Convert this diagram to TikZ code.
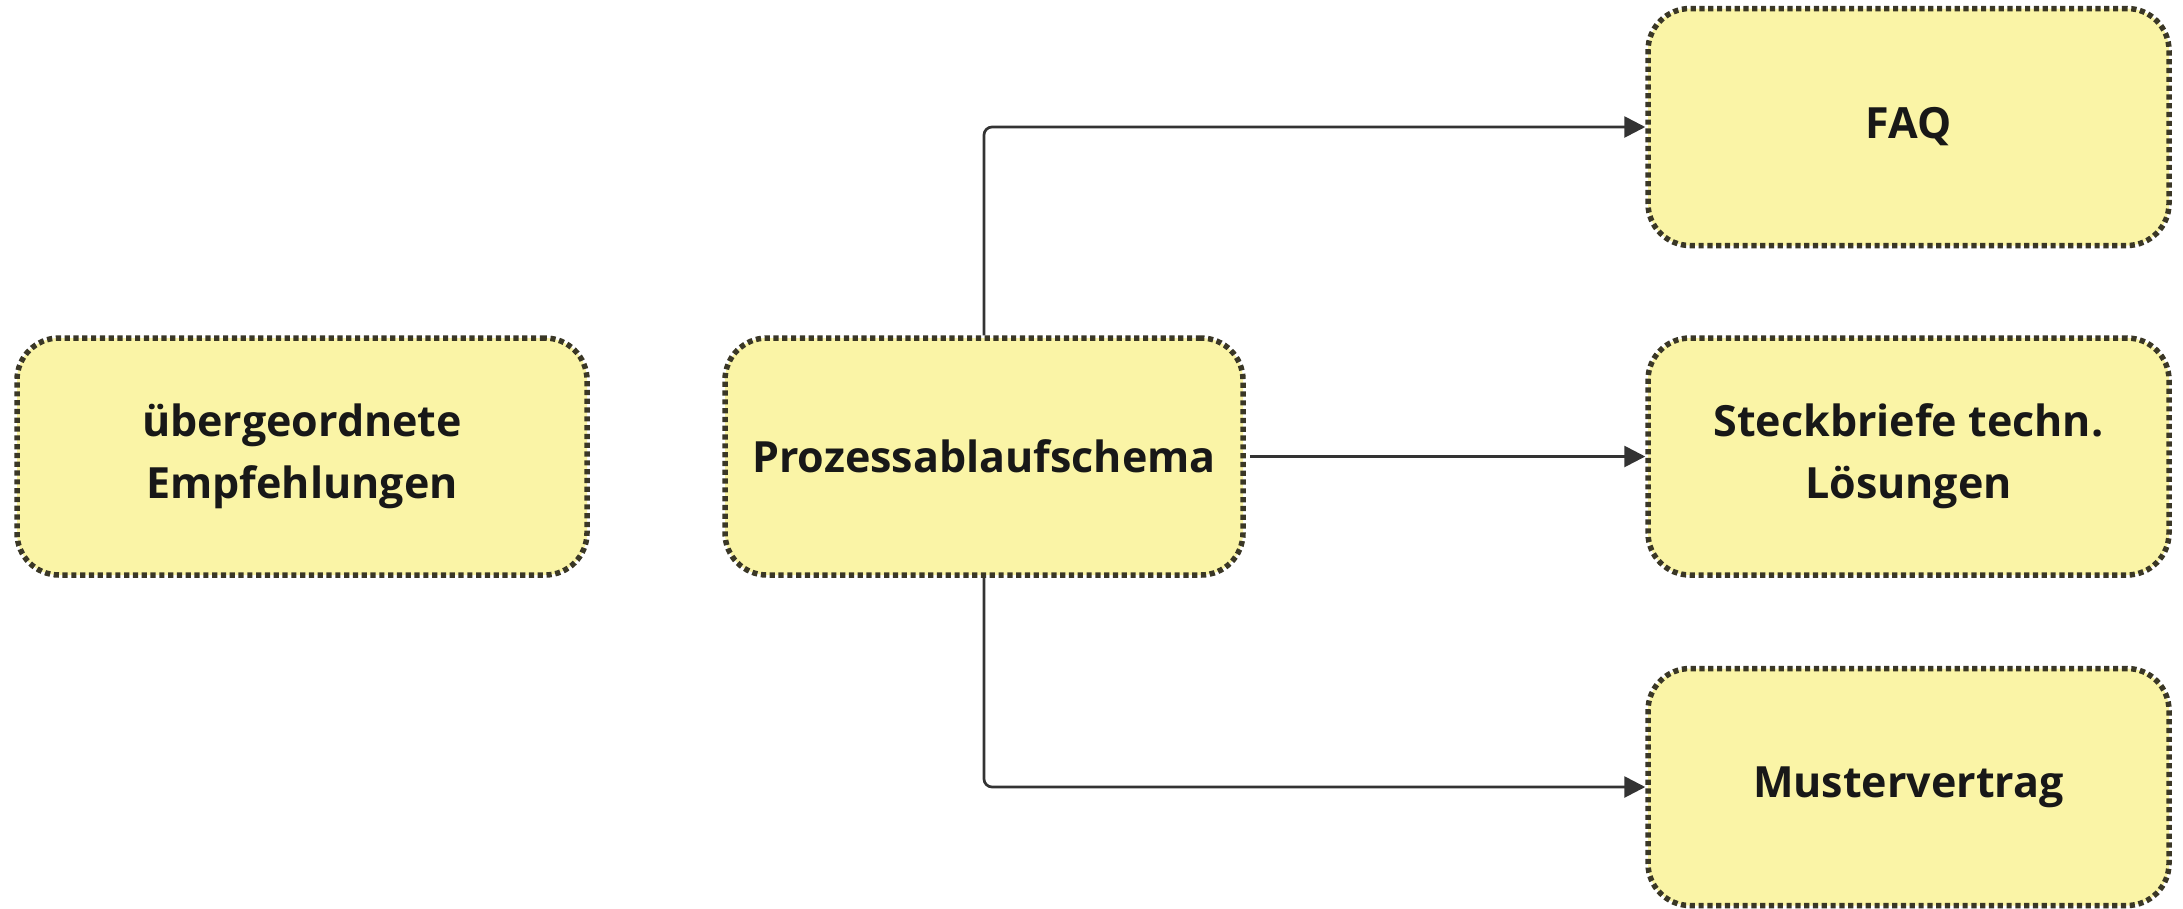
\documentclass[tikz,border=0pt]{standalone}
\usepackage{fontspec}
\setmainfont{Open Sans}
\usetikzlibrary{arrows.meta}
\definecolor{boxfill}{RGB}{250,244,166}
\definecolor{boxline}{RGB}{58,55,38}
\definecolor{edgecol}{RGB}{51,51,51}
\definecolor{txt}{RGB}{24,24,24}
\begin{document}
\begin{tikzpicture}[x=1pt,y=-1pt,
  box/.style={draw=boxline, fill=boxfill, line width=5.5pt,
    dash pattern=on 5.2pt off 3.6pt, rounded corners=42pt,
    minimum height=237pt, align=center, inner sep=0pt,
    text=txt, font=\fontsize{43}{62}\selectfont\bfseries},
  conn/.style={draw=edgecol, line width=2.7pt, rounded corners=8pt,
    -{Triangle[length=21pt,width=21pt]}}]
\fill[white] (0,0) rectangle (2183,908);
\useasboundingbox (0,0) rectangle (2183,908);
\node[box, minimum width=570pt] (emp) at (302,456.5) {übergeordnete\\Empfehlungen};
\node[box, minimum width=518pt] (proz) at (984,456.5) {Prozessablaufschema};
\node[box, minimum width=521pt] (faq) at (1908.5,127) {FAQ};
\node[box, minimum width=521pt] (steck) at (1908.5,456.5) {Steckbriefe techn.\\Lösungen};
\node[box, minimum width=521pt] (must) at (1908.5,787) {Mustervertrag};
\draw[conn] (proz.north) |- (faq.west);
\draw[conn, shorten <=4pt] (proz.east) -- (steck.west);
\draw[conn] (proz.south) |- (must.west);
\end{tikzpicture}
\end{document}
